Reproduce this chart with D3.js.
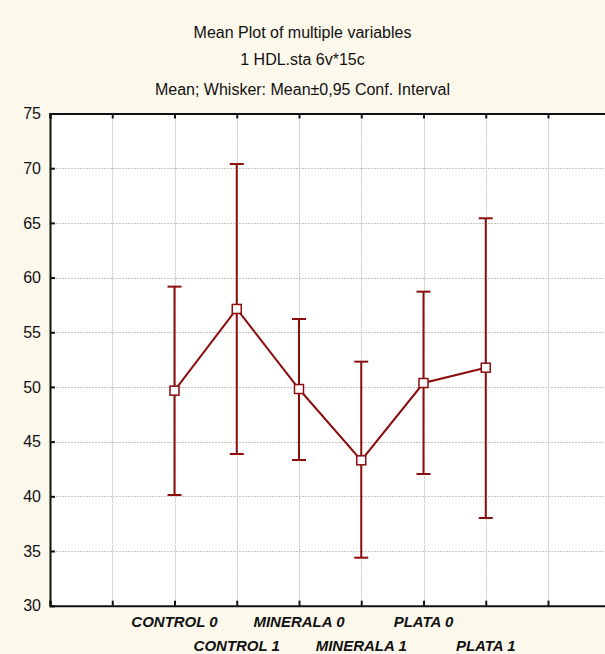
<!DOCTYPE html>
<html>
<head>
<meta charset="utf-8">
<script src="https://cdn.jsdelivr.net/npm/d3@7"></script>
<style>
  html, body { margin: 0; padding: 0; background: #fdf8ec; }
  svg { display: block; }
  text { font-family: "Liberation Sans", Arial, sans-serif; }
</style>
</head>
<body>
<svg id="chart" width="605" height="654"></svg>
<script>
// Variables and their summary statistics
const categories = ["CONTROL 0", "CONTROL 1", "MINERALA 0", "MINERALA 1", "PLATA 0", "PLATA 1"];
const means = [49.66, 57.13, 49.81, 43.29, 50.36, 51.76];
const upper = [59.17, 70.38, 56.21, 52.31, 58.71, 65.42];
const lower = [40.12, 43.87, 43.32, 34.39, 42.04, 38.02];
const yTicks = [30, 35, 40, 45, 50, 55, 60, 65, 70, 75];
const titleLines = [
  "Mean Plot of multiple variables",
  "1 HDL.sta 6v*15c",
  "Mean; Whisker: Mean\u00b10,95 Conf. Interval"
];

const W = 605, H = 654;
const svg = d3.select("#chart");
const color = "#8b0d0d";

// category slots sit at 2..7 on a 0..9 horizontal grid
const x = d3.scaleLinear().domain([0, 9]).range([50, 610.25]);
const y = d3.scaleLinear().domain([30, 75]).range([605.7, 113.5]);
const xGrid = d3.range(0, 10);

svg.append("rect").attr("width", W).attr("height", H).attr("fill", "#fdf8ec");

// titles
svg.selectAll("text.title").data(titleLines).enter().append("text")
  .attr("class", "title")
  .attr("x", 302.5)
  .attr("y", (d, i) => [38, 65, 95][i])
  .attr("text-anchor", "middle")
  .attr("font-size", 16)
  .attr("fill", "#111")
  .text(d => d);

// plot area
svg.append("rect")
  .attr("x", x(0)).attr("y", y(75))
  .attr("width", W - x(0)).attr("height", y(30) - y(75))
  .attr("fill", "#fff");

// dotted grid
const grid = svg.append("g").attr("stroke", "#c4c4c4").attr("stroke-width", 1)
  .attr("stroke-dasharray", "2,1");
grid.selectAll("line.v").data(xGrid.slice(1)).enter().append("line")
  .attr("x1", d => Math.round(x(d)) + 0.5).attr("x2", d => Math.round(x(d)) + 0.5)
  .attr("y1", y(75)).attr("y2", y(30));
grid.selectAll("line.h").data(yTicks.slice(1, -1)).enter().append("line")
  .attr("x1", x(0)).attr("x2", W)
  .attr("y1", d => Math.round(y(d)) + 0.5).attr("y2", d => Math.round(y(d)) + 0.5);

// axes
const yAxis = d3.axisLeft(y).tickValues(yTicks).tickSize(-5).tickPadding(9);
const gy = svg.append("g").attr("transform", `translate(${x(0)},0)`).call(yAxis);
gy.select(".domain").attr("stroke", "#111").attr("stroke-width", 2);
gy.selectAll(".tick line").attr("stroke", "#111").attr("stroke-width", 2);
gy.selectAll(".tick text").attr("font-size", 16).attr("fill", "#111")
  .attr("font-family", "'Liberation Sans', Arial, sans-serif");

const xTop = d3.axisTop(x).tickValues(xGrid).tickSize(-5).tickFormat("");
const gt = svg.append("g").attr("transform", `translate(0,${y(75)})`).call(xTop);
const xBot = d3.axisBottom(x).tickValues(xGrid).tickSize(-5).tickFormat("");
const gb = svg.append("g").attr("transform", `translate(0,${y(30)})`).call(xBot);
[gt, gb].forEach(g => {
  g.select(".domain").attr("stroke", "#111").attr("stroke-width", 2);
  g.selectAll(".tick line").attr("stroke", "#111").attr("stroke-width", 2);
});

// category labels, staggered on two rows
svg.selectAll("text.cat").data(categories).enter().append("text")
  .attr("class", "cat")
  .attr("x", (d, i) => x(i + 2))
  .attr("y", (d, i) => i % 2 === 0 ? 627 : 651)
  .attr("text-anchor", "middle")
  .attr("font-size", 15)
  .attr("font-weight", "bold")
  .attr("font-style", "italic")
  .attr("fill", "#111")
  .text(d => d);

// whiskers
const wk = svg.append("g").attr("stroke", color).attr("stroke-width", 2);
categories.forEach((c, i) => {
  const cx = x(i + 2);
  wk.append("line").attr("x1", cx).attr("x2", cx).attr("y1", y(upper[i])).attr("y2", y(lower[i]));
  wk.append("line").attr("x1", cx - 7).attr("x2", cx + 7).attr("y1", y(upper[i])).attr("y2", y(upper[i]));
  wk.append("line").attr("x1", cx - 7).attr("x2", cx + 7).attr("y1", y(lower[i])).attr("y2", y(lower[i]));
});

// mean line
const line = d3.line().x((d, i) => x(i + 2)).y(d => y(d));
svg.append("path").datum(means).attr("d", line)
  .attr("fill", "none").attr("stroke", color).attr("stroke-width", 2);

// mean markers
svg.selectAll("rect.m").data(means).enter().append("rect")
  .attr("class", "m")
  .attr("x", (d, i) => x(i + 2) - 4.5)
  .attr("y", d => y(d) - 4.5)
  .attr("width", 9).attr("height", 9)
  .attr("fill", "#fff").attr("stroke", color).attr("stroke-width", 1.5);
</script>
</body>
</html>
